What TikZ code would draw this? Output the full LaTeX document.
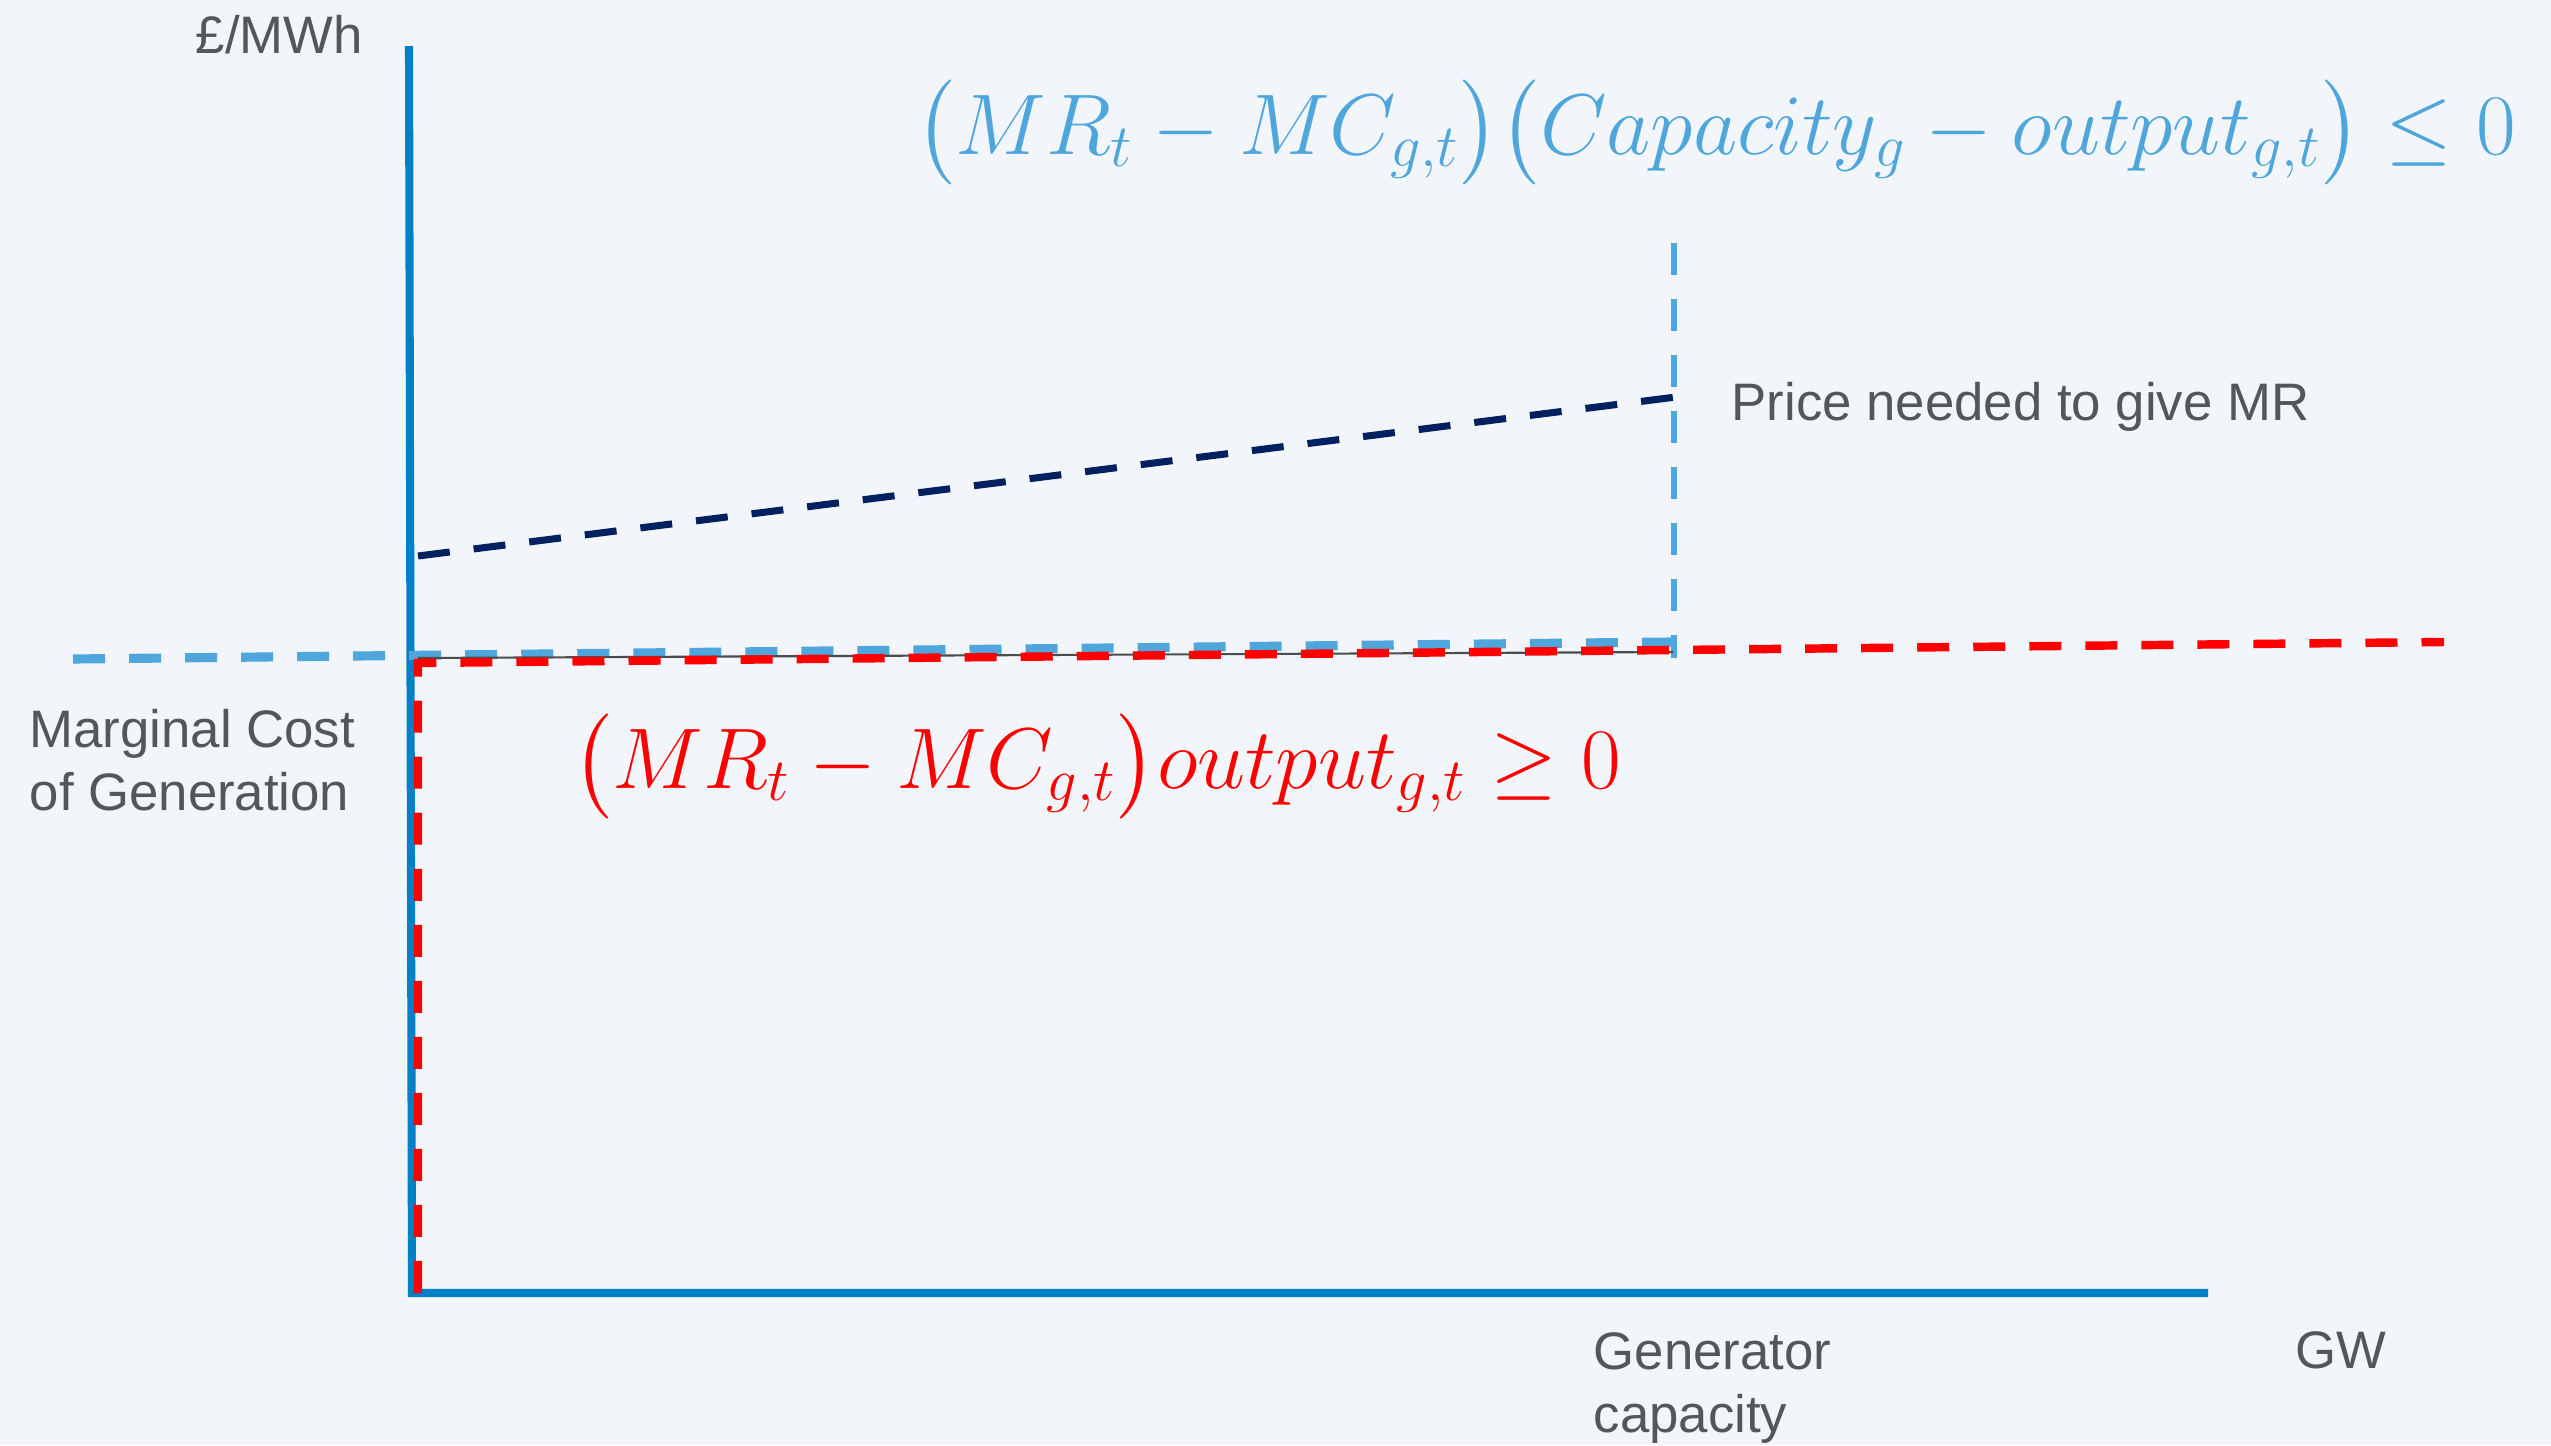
\RequirePackage{fix-cm}
\documentclass[tikz,border=0pt]{standalone}
\usepackage{fontspec}
\setmainfont{Liberation Sans}
\usepackage{amsmath}
\definecolor{hgrund}{HTML}{F2F6FA}
\definecolor{achsblau}{HTML}{0080C6}
\definecolor{hellblau}{HTML}{4EA6DC}
\definecolor{dunkelblau}{HTML}{002060}
\definecolor{schrift}{HTML}{53565A}

\begin{document}
\begin{tikzpicture}[x=0.01cm,y=-0.01cm,
    achse/.style={draw=achsblau, line width=2.3pt},
    strich/.style={line width=2.6pt, dash pattern=on 0.32cm off 0.24cm},
    beschriftung/.style={inner sep=0pt, text=schrift, font=\fontsize{15}{17.9}\selectfont, anchor=base west},
    formel/.style={inner sep=0pt, anchor=base west, font=\fontsize{24.5}{30}\selectfont}]
    % Hintergrund:
    \fill[hgrund] (0,0) rectangle (2551,1445);
    \useasboundingbox (0,0) rectangle (2551,1445);
    % Punkte:
    \coordinate (oben) at (409,46);
    \coordinate (ursprung) at (412,1293);
    \coordinate (rechts) at (2208,1293);
    \coordinate (mc links) at (73,659);
    \coordinate (mc rechts) at (1673,642);
    \coordinate (kap oben) at (1674,243);
    \coordinate (kap unten) at (1674,658);
    \coordinate (preis links) at (418,556);
    \coordinate (preis rechts) at (1676,397);
    \coordinate (rot unten) at (418,1293);
    \coordinate (rot ecke) at (418,663);
    \coordinate (rot rechts) at (2444,642);
    \coordinate (duenn links) at (418,658);
    \coordinate (duenn rechts) at (1673,652);
    % Achsen:
    \draw[achse] (oben) -- (ursprung) -- (rechts);
    % Grenzkosten und Kapazitaet:
    \draw[strich, hellblau] (mc links) -- (mc rechts); % waagrecht
    \draw[hellblau, line width=1.7pt, dash pattern=on 0.32cm off 0.24cm] (kap oben) -- (kap unten); % senkrecht
    \draw[dunkelblau, line width=2pt, dash pattern=on 0.32cm off 0.24cm] (preis links) -- (preis rechts); % Preis
    \draw[black!70, line width=0.6pt] (duenn links) -- (duenn rechts);
    \draw[strich, red, line width=2.4pt] (rot unten) -- (rot ecke) -- (rot rechts); % Leistung
    % Beschriftungen:
    \node[beschriftung] (einheit) at (195,53) {£/MWh};
    \node[beschriftung] (preis) at (1731,420) {Price needed to give MR};
    \node[beschriftung, align=left] (grenzkosten) at (29,810) {Marginal Cost\\of Generation};
    \node[beschriftung, align=left] (kapazitaet) at (1593,1432) {Generator\\capacity};
    \node[beschriftung] (gw) at (2295,1368) {GW};
    % Formeln:
    \node[formel, text=hellblau] (bedingung oben) at (915,154) {$\bigl(MR_t - MC_{g,t}\bigr)\bigl(Capacity_g - output_{g,t}\bigr) \leq 0$};
    \node[formel, text=red] (bedingung unten) at (572,788) {$\bigl(MR_t - MC_{g,t}\bigr)output_{g,t} \geq 0$};
\end{tikzpicture}
\end{document}
